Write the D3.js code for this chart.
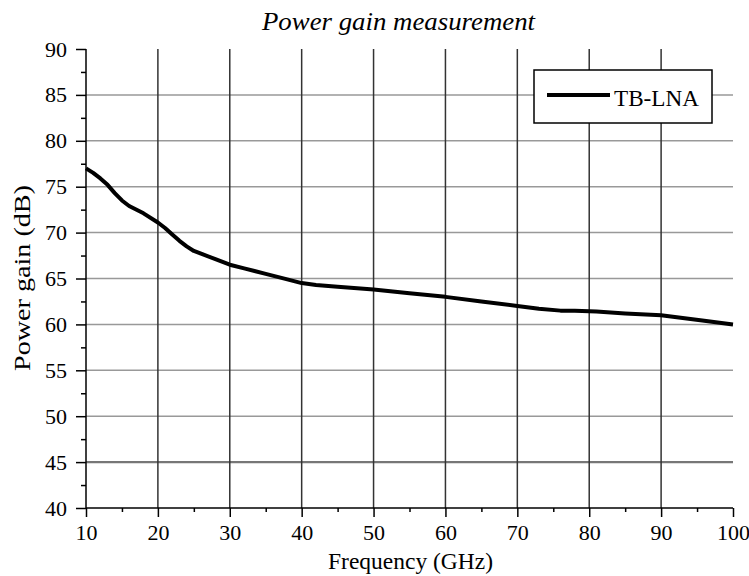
<!DOCTYPE html>
<html><head><meta charset="utf-8">
<script src="https://cdn.jsdelivr.net/npm/d3@7"></script>
<style>body{margin:0;background:#fff}svg{display:block}text{font-family:"Liberation Serif","Times New Roman",serif;fill:#000}</style>
</head><body>
<script>
const freq = [10,11,12,13,14,15,16,18,20,21,22,23,24,25,26,28,30,32,35,38,40,42,45,50,55,60,65,70,73,76,78,81,85,90,93,96,100];
const gain = [77,76.5,75.9,75.2,74.3,73.5,72.9,72.1,71.1,70.5,69.8,69.1,68.5,68,67.7,67.1,66.5,66.1,65.5,64.9,64.5,64.3,64.1,63.8,63.4,63,62.5,62,61.7,61.5,61.5,61.4,61.2,61,60.7,60.4,60];
const xTicks = [10,20,30,40,50,60,70,80,90,100];
const yTicks = [40,45,50,55,60,65,70,75,80,85,90];
const seriesName = "TB-LNA";
const titleText = "Power gain measurement";
const xLabel = "Frequency (GHz)";
const yLabel = "Power gain (dB)";

const W = 749, H = 576;
const m = {l:86, r:16, t:49, b:68};
const svg = d3.select("body").append("svg").attr("width",W).attr("height",H);
const x = d3.scaleLinear().domain([10,100]).range([m.l, W-m.r]);
const y = d3.scaleLinear().domain([40,90]).range([H-m.b, m.t]);

// horizontal grid (gray)
svg.append("g").selectAll("line").data(yTicks.filter(v=>v>40 && v<90)).join("line")
  .attr("x1",m.l).attr("x2",W-m.r).attr("y1",d=>y(d)).attr("y2",d=>y(d))
  .attr("stroke",d=>d===45?"#777":"#999").attr("stroke-width",d=>d===45?2.2:1.5);
// vertical grid (dark)
svg.append("g").selectAll("line").data(xTicks.filter(v=>v>10 && v<100)).join("line")
  .attr("y1",m.t).attr("y2",H-m.b).attr("x1",d=>x(d)).attr("x2",d=>x(d))
  .attr("stroke","#333").attr("stroke-width",1.5);

// axes
const xAxis = svg.append("g").attr("transform",`translate(0,${H-m.b})`)
  .call(d3.axisBottom(x).tickValues(xTicks).tickSize(9).tickPadding(7).tickFormat(d3.format("d")));
const xMinor = svg.append("g").attr("transform",`translate(0,${H-m.b})`)
  .call(d3.axisBottom(x).tickValues(d3.range(15,100,10)).tickSize(4).tickFormat(""));
const yAxis = svg.append("g").attr("transform",`translate(${m.l},0)`)
  .call(d3.axisLeft(y).tickValues(yTicks).tickSize(10).tickPadding(9).tickFormat(d3.format("d")));
const yMinor = svg.append("g").attr("transform",`translate(${m.l},0)`)
  .call(d3.axisLeft(y).tickValues(d3.range(42.5,90,5)).tickSize(5).tickFormat(""));
[xAxis,xMinor,yAxis,yMinor].forEach(g=>{
  g.attr("font-family","Liberation Serif, Times New Roman, serif").attr("font-size",22);
  g.selectAll("path.domain").attr("stroke","#000").attr("stroke-width",1.5);
  g.selectAll(".tick line").attr("stroke","#000").attr("stroke-width",1.5);
  g.selectAll("text").style("font-size","22px").attr("fill","#000");
});
xMinor.select("path.domain").remove(); yMinor.select("path.domain").remove();
xAxis.select("path.domain").attr("d",`M${m.l},0H${W-m.r}`);
yAxis.select("path.domain").attr("d",`M0,${m.t}V${H-m.b}`);

// line
svg.append("path").datum(freq.map((f,i)=>[f,gain[i]]))
  .attr("fill","none").attr("stroke","#000").attr("stroke-width",4).attr("stroke-linejoin","round")
  .attr("d", d3.line().x(d=>x(d[0])).y(d=>y(d[1])));

// title & labels
svg.append("text").attr("x",398.5).attr("y",30).attr("text-anchor","middle")
  .attr("textLength",273).attr("lengthAdjust","spacingAndGlyphs")
  .style("font-size","26px").style("font-style","italic").text(titleText);
svg.append("text").attr("x",410.5).attr("y",569).attr("text-anchor","middle")
  .attr("textLength",165).attr("lengthAdjust","spacingAndGlyphs")
  .style("font-size","23px").text(xLabel);
svg.append("text").attr("transform","translate(30,278) rotate(-90)").attr("text-anchor","middle")
  .attr("textLength",186).attr("lengthAdjust","spacingAndGlyphs")
  .style("font-size","24px").text(yLabel);

// legend
const lg = svg.append("g");
lg.append("rect").attr("x",534).attr("y",70).attr("width",178).attr("height",53)
  .attr("fill","#fff").attr("stroke","#000").attr("stroke-width",1.5);
lg.append("line").attr("x1",547).attr("x2",610).attr("y1",95).attr("y2",95)
  .attr("stroke","#000").attr("stroke-width",4);
lg.append("text").attr("x",614).attr("y",106)
  .attr("textLength",85).attr("lengthAdjust","spacingAndGlyphs")
  .style("font-size","23px").text(seriesName);
</script>
</body></html>
